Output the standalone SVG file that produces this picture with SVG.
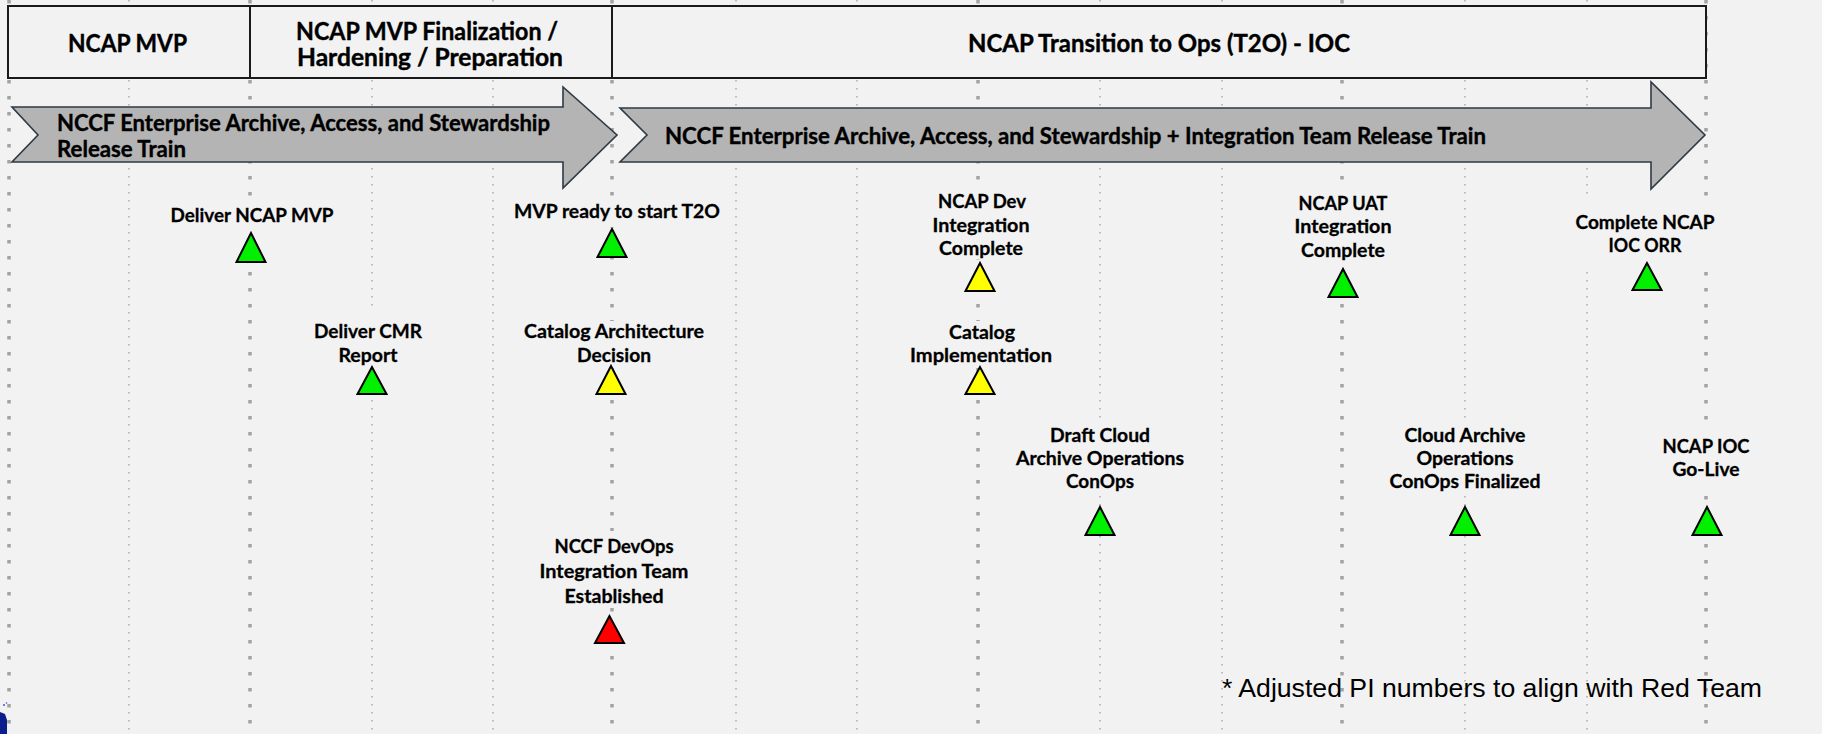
<svg xmlns="http://www.w3.org/2000/svg" width="1822" height="734" viewBox="0 0 1822 734">
<style>
.bg{fill:#f2f2f2}
.hv{stroke:#a3a3a3;stroke-width:3.5;stroke-dasharray:3.5 12.5;fill:none}
.tn{stroke:#ababab;stroke-width:1.5;stroke-dasharray:1.5 6.5;fill:none}
.hdr{fill:#f2f2f2;stroke:#1a1a1a;stroke-width:2}
.hdrline{stroke:#1a1a1a;stroke-width:2}
.arrow{fill:#b4b4b4;stroke:#2e3a45;stroke-width:1.6;stroke-linejoin:miter}
.ht{font-family:Lato,"Liberation Sans",sans-serif;font-weight:bold;font-size:24px;fill:#000;stroke:#000;stroke-width:0.4}
.at{font-family:Lato,"Liberation Sans",sans-serif;font-weight:bold;font-size:22.5px;fill:#000;stroke:#000;stroke-width:0.4}
.mt{font-family:Lato,"Liberation Sans",sans-serif;font-weight:bold;font-size:19.5px;fill:#000;text-anchor:middle;stroke:#000;stroke-width:0.3}
.lb{fill:#f2f2f2}
.tri{stroke:#000;stroke-width:2;stroke-linejoin:miter}
.g{fill:#00f000}
.y{fill:#ffff00}
.r{fill:#ff0000}
.fn{font-family:"Liberation Sans",Arial,sans-serif;font-size:26px;fill:#000}
</style>
<rect class="bg" x="0" y="0" width="1822" height="734"/>
<g id="gridlines">
<line class="hv" x1="9" y1="0" x2="9" y2="734"/>
<line class="tn" x1="129" y1="0" x2="129" y2="734"/>
<line class="hv" x1="250" y1="0" x2="250" y2="734"/>
<line class="tn" x1="372" y1="0" x2="372" y2="734"/>
<line class="tn" x1="493" y1="0" x2="493" y2="734"/>
<line class="hv" x1="612" y1="0" x2="612" y2="734"/>
<line class="tn" x1="736" y1="0" x2="736" y2="734"/>
<line class="tn" x1="857" y1="0" x2="857" y2="734"/>
<line class="hv" x1="978" y1="0" x2="978" y2="734"/>
<line class="tn" x1="1100" y1="0" x2="1100" y2="734"/>
<line class="tn" x1="1222" y1="0" x2="1222" y2="734"/>
<line class="hv" x1="1342" y1="0" x2="1342" y2="734"/>
<line class="tn" x1="1465" y1="0" x2="1465" y2="734"/>
<line class="tn" x1="1587" y1="0" x2="1587" y2="734"/>
<line class="hv" x1="1706" y1="0" x2="1706" y2="734"/>
</g>
<g id="header">
<rect class="hdr" x="8" y="6" width="1698" height="72"/>
<line class="hdrline" x1="250" y1="6" x2="250" y2="78"/>
<line class="hdrline" x1="612" y1="6" x2="612" y2="78"/>
<text class="ht" x="127.5" y="52" text-anchor="middle" textLength="119" lengthAdjust="spacingAndGlyphs">NCAP MVP</text>
<text class="ht" x="427" y="40" text-anchor="middle" textLength="262" lengthAdjust="spacingAndGlyphs">NCAP MVP Finalization /</text>
<text class="ht" x="430" y="66" text-anchor="middle" textLength="266" lengthAdjust="spacingAndGlyphs">Hardening / Preparation</text>
<text class="ht" x="1159" y="52" text-anchor="middle" textLength="382" lengthAdjust="spacingAndGlyphs">NCAP Transition to Ops (T2O) - IOC</text>
</g>
<g id="arrow1">
<polygon class="arrow" points="12,107 563,107 563,87 617,135 563,188 563,162 12,162 38,135"/>
<text class="at" x="57" y="131" textLength="493" lengthAdjust="spacingAndGlyphs">NCCF Enterprise Archive, Access, and Stewardship</text>
<text class="at" x="57" y="157" textLength="129" lengthAdjust="spacingAndGlyphs">Release Train</text>
</g>
<g id="arrow2">
<polygon class="arrow" points="620,108 1651,108 1651,82 1705,135 1651,189 1651,162 620,162 647,135"/>
<text class="at" x="665" y="144" textLength="821" lengthAdjust="spacingAndGlyphs">NCCF Enterprise Archive, Access, and Stewardship + Integration Team Release Train</text>
</g>
<g id="m-deliver-ncap-mvp">
<rect class="lb" x="166" y="197" width="172" height="34"/>
<text class="mt" x="252" y="222" textLength="163" lengthAdjust="spacingAndGlyphs">Deliver NCAP MVP</text>
<polygon class="tri g" points="251,233 236.5,262 265.5,262"/>
</g>
<g id="m-deliver-cmr-report">
<rect class="lb" x="310" y="306" width="116" height="60"/>
<text class="mt" x="368" y="338" textLength="108" lengthAdjust="spacingAndGlyphs">Deliver CMR</text>
<text class="mt" x="368" y="362" textLength="59" lengthAdjust="spacingAndGlyphs">Report</text>
<polygon class="tri g" points="372,367 357.5,394 386.5,394"/>
</g>
<g id="m-mvp-ready">
<rect class="lb" x="510" y="198" width="214" height="29"/>
<text class="mt" x="617" y="218" textLength="206" lengthAdjust="spacingAndGlyphs">MVP ready to start T2O</text>
<polygon class="tri g" points="612,229 597.5,257 626.5,257"/>
</g>
<g id="m-catalog-architecture">
<rect class="lb" x="520" y="321" width="188" height="45"/>
<text class="mt" x="614" y="338" textLength="180" lengthAdjust="spacingAndGlyphs">Catalog Architecture</text>
<text class="mt" x="614" y="362" textLength="74" lengthAdjust="spacingAndGlyphs">Decision</text>
<polygon class="tri y" points="611,366 596.5,394 625.5,394"/>
</g>
<g id="m-nccf-devops">
<rect class="lb" x="536" y="531" width="156" height="74"/>
<text class="mt" x="614" y="553" textLength="119" lengthAdjust="spacingAndGlyphs">NCCF DevOps</text>
<text class="mt" x="614" y="578" textLength="149" lengthAdjust="spacingAndGlyphs">Integration Team</text>
<text class="mt" x="614" y="603" textLength="99" lengthAdjust="spacingAndGlyphs">Established</text>
<polygon class="tri r" points="609.5,616 595,643 624,643"/>
</g>
<g id="m-ncap-dev">
<rect class="lb" x="930" y="189" width="104" height="70"/>
<text class="mt" x="982" y="208" textLength="88" lengthAdjust="spacingAndGlyphs">NCAP Dev</text>
<text class="mt" x="981" y="232" textLength="97" lengthAdjust="spacingAndGlyphs">Integration</text>
<text class="mt" x="981" y="255" textLength="84" lengthAdjust="spacingAndGlyphs">Complete</text>
<polygon class="tri y" points="980,263 965.5,291 994.5,291"/>
</g>
<g id="m-catalog-implementation">
<rect class="lb" x="906" y="321" width="150" height="45"/>
<text class="mt" x="982" y="339" textLength="66" lengthAdjust="spacingAndGlyphs">Catalog</text>
<text class="mt" x="981" y="362" textLength="142" lengthAdjust="spacingAndGlyphs">Implementation</text>
<polygon class="tri y" points="980,367 965.5,394 994.5,394"/>
</g>
<g id="m-draft-cloud">
<rect class="lb" x="1012" y="422" width="176" height="72"/>
<text class="mt" x="1100" y="442" textLength="100" lengthAdjust="spacingAndGlyphs">Draft Cloud</text>
<text class="mt" x="1100" y="465" textLength="168" lengthAdjust="spacingAndGlyphs">Archive Operations</text>
<text class="mt" x="1100" y="488" textLength="68" lengthAdjust="spacingAndGlyphs">ConOps</text>
<polygon class="tri g" points="1100,507 1085.5,535 1114.5,535"/>
</g>
<g id="m-ncap-uat">
<rect class="lb" x="1290" y="190" width="106" height="72"/>
<text class="mt" x="1343" y="210" textLength="89" lengthAdjust="spacingAndGlyphs">NCAP UAT</text>
<text class="mt" x="1343" y="233" textLength="97" lengthAdjust="spacingAndGlyphs">Integration</text>
<text class="mt" x="1343" y="257" textLength="84" lengthAdjust="spacingAndGlyphs">Complete</text>
<polygon class="tri g" points="1343,269 1328.5,297 1357.5,297"/>
</g>
<g id="m-complete-ncap-ioc-orr">
<rect class="lb" x="1572" y="197" width="147" height="72"/>
<text class="mt" x="1645" y="229" textLength="139" lengthAdjust="spacingAndGlyphs">Complete NCAP</text>
<text class="mt" x="1645" y="252" textLength="73" lengthAdjust="spacingAndGlyphs">IOC ORR</text>
<polygon class="tri g" points="1647,263 1632.5,290 1661.5,290"/>
</g>
<g id="m-cloud-archive-finalized">
<rect class="lb" x="1385" y="422" width="160" height="72"/>
<text class="mt" x="1465" y="442" textLength="121" lengthAdjust="spacingAndGlyphs">Cloud Archive</text>
<text class="mt" x="1465" y="465" textLength="97" lengthAdjust="spacingAndGlyphs">Operations</text>
<text class="mt" x="1465" y="488" textLength="151" lengthAdjust="spacingAndGlyphs">ConOps Finalized</text>
<polygon class="tri g" points="1465,507 1450.5,535 1479.5,535"/>
</g>
<g id="m-ncap-ioc-go-live">
<rect class="lb" x="1660" y="426" width="94" height="68"/>
<text class="mt" x="1706" y="453" textLength="87" lengthAdjust="spacingAndGlyphs">NCAP IOC</text>
<text class="mt" x="1706" y="476" textLength="67" lengthAdjust="spacingAndGlyphs">Go-Live</text>
<polygon class="tri g" points="1707,507 1692.5,535 1721.5,535"/>
</g>
<g id="footnote">
<text class="fn" x="1222" y="697" textLength="540" lengthAdjust="spacingAndGlyphs">* Adjusted PI numbers to align with Red Team</text>
</g>
<g id="logo-fragment">
<polygon points="0,712 5,714 7,720 7,734 0,734" fill="#0b1f8c"/>
<circle cx="4" cy="705" r="1" fill="#3a5bd0"/>
<circle cx="6.5" cy="703" r="0.8" fill="#3a5bd0"/>
</g>
</svg>
